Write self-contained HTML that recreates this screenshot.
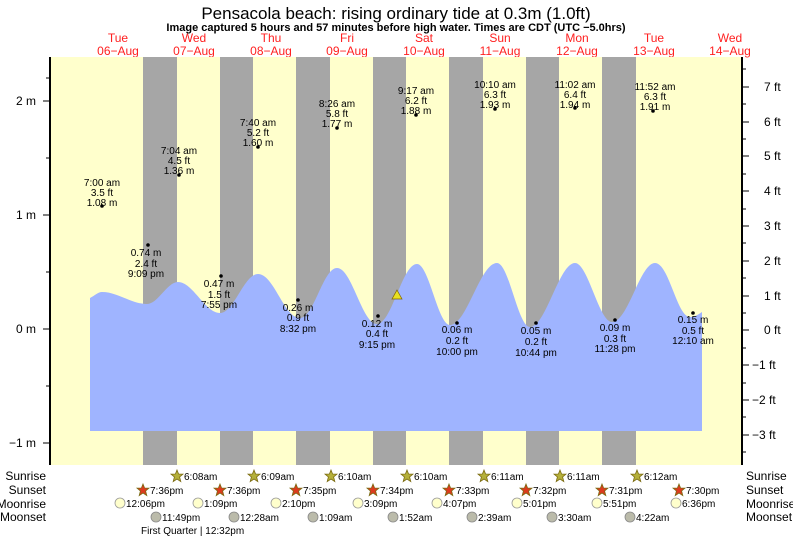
<!DOCTYPE html>
<html><head><meta charset="utf-8"><style>
html,body{margin:0;padding:0;background:#fff;}
svg{display:block;font-family:"Liberation Sans",sans-serif;}
</style></head><body>
<svg width="793" height="539" viewBox="0 0 793 539" xmlns="http://www.w3.org/2000/svg">
<rect width="793" height="539" fill="#fff"/>
<text x="396" y="19" font-size="17" text-anchor="middle" fill="#000">Pensacola beach: rising  ordinary tide at 0.3m (1.0ft)</text>
<text x="396" y="31" font-size="11" font-weight="bold" text-anchor="middle" fill="#000">Image captured 5 hours and 57 minutes before high water. Times are CDT (UTC −5.0hrs)</text>
<g font-size="12" fill="#ff2020" text-anchor="middle">
<text x="118" y="42">Tue</text><text x="118" y="55">06−Aug</text>
<text x="194" y="42">Wed</text><text x="194" y="55">07−Aug</text>
<text x="271" y="42">Thu</text><text x="271" y="55">08−Aug</text>
<text x="347" y="42">Fri</text><text x="347" y="55">09−Aug</text>
<text x="424" y="42">Sat</text><text x="424" y="55">10−Aug</text>
<text x="500" y="42">Sun</text><text x="500" y="55">11−Aug</text>
<text x="577" y="42">Mon</text><text x="577" y="55">12−Aug</text>
<text x="654" y="42">Tue</text><text x="654" y="55">13−Aug</text>
<text x="730" y="42">Wed</text><text x="730" y="55">14−Aug</text>
</g>
<rect x="50" y="57" width="692" height="408" fill="#ffffcc"/>
<g fill="#a6a6a6">
<rect x="143" y="57" width="34" height="408"/>
<rect x="220" y="57" width="33" height="408"/>
<rect x="296" y="57" width="34" height="408"/>
<rect x="373" y="57" width="33" height="408"/>
<rect x="449" y="57" width="34" height="408"/>
<rect x="526" y="57" width="33" height="408"/>
<rect x="602" y="57" width="34" height="408"/>
</g>
<path fill="#9fb4ff" d="M90,431 L90,298 C94,296 98,292 102,292 C118,292 131,304 147,304 C158,304 167,282 178,282 C193,282 205,313 220,313 C234,313 244,274 258,274 C274,274 284,318 300,318 C314,318 323,268 337,268 C352,268 362,324 377,324 C392,324 402,264 417,264 C429,264 438,325 450,325 C467,325 480,263 497,263 C509,263 518,327 530,327 C546,327 559,263 575,263 C588,263 599,322 612,322 C628,322 640,263 655,263 C669,263 677,317 690,317 C695,317 699,314 702,312 L702,431 Z"/>
<line x1="50" y1="57" x2="50" y2="465" stroke="#000" stroke-width="2"/>
<line x1="742" y1="57" x2="742" y2="465" stroke="#000" stroke-width="2"/>
<g stroke="#000" stroke-width="1">
<line x1="43" y1="101" x2="50" y2="101"/><line x1="43" y1="215" x2="50" y2="215"/><line x1="43" y1="329" x2="50" y2="329"/><line x1="43" y1="443" x2="50" y2="443"/>
<line x1="46" y1="78" x2="50" y2="78"/><line x1="46" y1="158" x2="50" y2="158"/><line x1="46" y1="272" x2="50" y2="272"/><line x1="46" y1="386" x2="50" y2="386"/>
<line x1="742" y1="87" x2="749" y2="87"/><line x1="742" y1="122" x2="749" y2="122"/><line x1="742" y1="156" x2="749" y2="156"/><line x1="742" y1="191" x2="749" y2="191"/><line x1="742" y1="226" x2="749" y2="226"/><line x1="742" y1="261" x2="749" y2="261"/><line x1="742" y1="296" x2="749" y2="296"/><line x1="742" y1="330" x2="749" y2="330"/><line x1="742" y1="365" x2="749" y2="365"/><line x1="742" y1="400" x2="749" y2="400"/><line x1="742" y1="435" x2="749" y2="435"/>
<line x1="742" y1="69" x2="746" y2="69"/><line x1="742" y1="104" x2="746" y2="104"/><line x1="742" y1="139" x2="746" y2="139"/><line x1="742" y1="174" x2="746" y2="174"/><line x1="742" y1="209" x2="746" y2="209"/><line x1="742" y1="243" x2="746" y2="243"/><line x1="742" y1="278" x2="746" y2="278"/><line x1="742" y1="313" x2="746" y2="313"/><line x1="742" y1="348" x2="746" y2="348"/><line x1="742" y1="383" x2="746" y2="383"/><line x1="742" y1="417" x2="746" y2="417"/><line x1="742" y1="452" x2="746" y2="452"/>
</g>
<g font-size="12" fill="#000" text-anchor="end">
<text x="36" y="105">2 m</text><text x="36" y="219">1 m</text><text x="36" y="333">0 m</text><text x="36" y="447">−1 m</text>
</g>
<g font-size="12" fill="#000">
<text x="764" y="91">7 ft</text><text x="764" y="126">6 ft</text><text x="764" y="160">5 ft</text><text x="764" y="195">4 ft</text><text x="764" y="230">3 ft</text><text x="764" y="265">2 ft</text><text x="764" y="300">1 ft</text><text x="764" y="334">0 ft</text><text x="752" y="369">−1 ft</text><text x="752" y="404">−2 ft</text><text x="752" y="439">−3 ft</text>
</g>
<g font-size="10" fill="#000" text-anchor="middle">
<circle cx="102" cy="206" r="1.8"/><text x="102" y="186">7:00 am</text><text x="102" y="196">3.5 ft</text><text x="102" y="206">1.08 m</text>
<circle cx="179" cy="175" r="1.8"/><text x="179" y="154">7:04 am</text><text x="179" y="164">4.5 ft</text><text x="179" y="174">1.36 m</text>
<circle cx="258" cy="147" r="1.8"/><text x="258" y="126">7:40 am</text><text x="258" y="136">5.2 ft</text><text x="258" y="146">1.60 m</text>
<circle cx="337" cy="128" r="1.8"/><text x="337" y="107">8:26 am</text><text x="337" y="117">5.8 ft</text><text x="337" y="127">1.77 m</text>
<circle cx="416" cy="115" r="1.8"/><text x="416" y="94">9:17 am</text><text x="416" y="104">6.2 ft</text><text x="416" y="114">1.88 m</text>
<circle cx="495" cy="109" r="1.8"/><text x="495" y="88">10:10 am</text><text x="495" y="98">6.3 ft</text><text x="495" y="108">1.93 m</text>
<circle cx="575" cy="108" r="1.8"/><text x="575" y="88">11:02 am</text><text x="575" y="98">6.4 ft</text><text x="575" y="108">1.94 m</text>
<circle cx="653" cy="111" r="1.8"/><text x="655" y="90">11:52 am</text><text x="655" y="100">6.3 ft</text><text x="655" y="110">1.91 m</text>
<circle cx="148" cy="245" r="1.8"/><text x="146" y="256">0.74 m</text><text x="146" y="267">2.4 ft</text><text x="146" y="277">9:09 pm</text>
<circle cx="221" cy="276" r="1.8"/><text x="219" y="287">0.47 m</text><text x="219" y="298">1.5 ft</text><text x="219" y="308">7:55 pm</text>
<circle cx="298" cy="300" r="1.8"/><text x="298" y="311">0.26 m</text><text x="298" y="321">0.9 ft</text><text x="298" y="332">8:32 pm</text>
<circle cx="378" cy="316" r="1.8"/><text x="377" y="327">0.12 m</text><text x="377" y="337">0.4 ft</text><text x="377" y="348">9:15 pm</text>
<circle cx="457" cy="323" r="1.8"/><text x="457" y="333">0.06 m</text><text x="457" y="344">0.2 ft</text><text x="457" y="355">10:00 pm</text>
<circle cx="536" cy="323" r="1.8"/><text x="536" y="334">0.05 m</text><text x="536" y="345">0.2 ft</text><text x="536" y="356">10:44 pm</text>
<circle cx="615" cy="320" r="1.8"/><text x="615" y="331">0.09 m</text><text x="615" y="342">0.3 ft</text><text x="615" y="352">11:28 pm</text>
<circle cx="693" cy="313" r="1.8"/><text x="693" y="323">0.15 m</text><text x="693" y="334">0.5 ft</text><text x="693" y="344">12:10 am</text>
</g>
<polygon points="397,290 402,299 392,299" fill="#e8e020" stroke="#806000" stroke-width="0.7"/>
<defs>
<polygon id="st" points="0,-6 1.6,-2 6,-1.9 2.6,1 3.8,5.6 0,3 -3.8,5.6 -2.6,1 -6,-1.9 -1.6,-2"/>
</defs>
<g font-size="12" fill="#000">
<text x="46" y="480" text-anchor="end">Sunrise</text><text x="46" y="494" text-anchor="end">Sunset</text><text x="46" y="508" text-anchor="end">Moonrise</text><text x="46" y="521" text-anchor="end">Moonset</text>
<text x="746" y="480">Sunrise</text><text x="746" y="494">Sunset</text><text x="746" y="508">Moonrise</text><text x="746" y="521">Moonset</text>
</g>
<g fill="#b5b03a" stroke="#7a6a10" stroke-width="0.8">
<use href="#st" x="177" y="476"/><use href="#st" x="254" y="476"/><use href="#st" x="331" y="476"/><use href="#st" x="407" y="476"/><use href="#st" x="484" y="476"/><use href="#st" x="560" y="476"/><use href="#st" x="637" y="476"/>
</g>
<g fill="#dd3a1e" stroke="#7a6a10" stroke-width="0.8">
<use href="#st" x="143" y="490"/><use href="#st" x="220" y="490"/><use href="#st" x="296" y="490"/><use href="#st" x="373" y="490"/><use href="#st" x="449" y="490"/><use href="#st" x="526" y="490"/><use href="#st" x="602" y="490"/><use href="#st" x="679" y="490"/>
</g>
<g fill="#ffffcc" stroke="#999" stroke-width="0.8">
<circle cx="120" cy="503" r="5"/><circle cx="198" cy="503" r="5"/><circle cx="276" cy="503" r="5"/><circle cx="358" cy="503" r="5"/><circle cx="437" cy="503" r="5"/><circle cx="517" cy="503" r="5"/><circle cx="597" cy="503" r="5"/><circle cx="676" cy="503" r="5"/>
</g>
<g fill="#bbbbaa" stroke="#888" stroke-width="0.8">
<circle cx="156" cy="517" r="5"/><circle cx="234" cy="517" r="5"/><circle cx="313" cy="517" r="5"/><circle cx="393" cy="517" r="5"/><circle cx="472" cy="517" r="5"/><circle cx="552" cy="517" r="5"/><circle cx="630" cy="517" r="5"/>
</g>
<g font-size="10" fill="#000">
<text x="184" y="480">6:08am</text><text x="261" y="480">6:09am</text><text x="338" y="480">6:10am</text><text x="414" y="480">6:10am</text><text x="491" y="480">6:11am</text><text x="567" y="480">6:11am</text><text x="644" y="480">6:12am</text>
<text x="150" y="494">7:36pm</text><text x="227" y="494">7:36pm</text><text x="303" y="494">7:35pm</text><text x="380" y="494">7:34pm</text><text x="456" y="494">7:33pm</text><text x="533" y="494">7:32pm</text><text x="609" y="494">7:31pm</text><text x="686" y="494">7:30pm</text>
<text x="126" y="507">12:06pm</text><text x="204" y="507">1:09pm</text><text x="282" y="507">2:10pm</text><text x="364" y="507">3:09pm</text><text x="443" y="507">4:07pm</text><text x="523" y="507">5:01pm</text><text x="603" y="507">5:51pm</text><text x="682" y="507">6:36pm</text>
<text x="162" y="521">11:49pm</text><text x="240" y="521">12:28am</text><text x="319" y="521">1:09am</text><text x="399" y="521">1:52am</text><text x="478" y="521">2:39am</text><text x="558" y="521">3:30am</text><text x="636" y="521">4:22am</text>
<text x="141" y="534">First Quarter | 12:32pm</text>
</g>
</svg>
</body></html>
